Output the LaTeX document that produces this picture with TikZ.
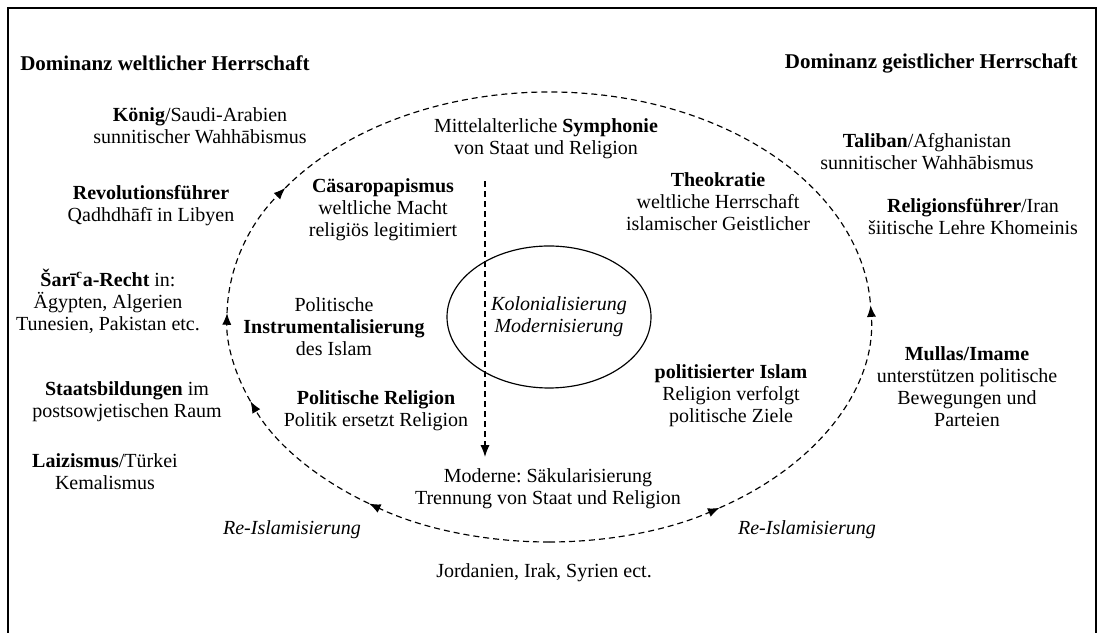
\documentclass[tikz,border=0pt]{standalone}
\usepackage{fontspec}
\setmainfont{Liberation Serif}
\usetikzlibrary{arrows.meta,positioning,calc}
\tikzset{
  txt/.style={align=center, inner sep=0pt, font=\fontsize{12}{13.2}\selectfont},
  itxt/.style={txt, font=\fontsize{12}{13.2}\selectfont\itshape},
  headtxt/.style={inner sep=0pt, font=\fontsize{12.6}{14}\selectfont\bfseries},
  loopline/.style={line width=0.7pt, dash pattern=on 3.6pt off 2.4pt},
  looparrow/.style={loopline, -{Latex[length=7pt, width=5.5pt]}},
  framebox/.style={line width=1.6pt}
}
\frenchspacing
\begin{document}
\begin{tikzpicture}[x=0.6pt, y=0.6pt]
    \useasboundingbox (0,0) rectangle (1101,-633);
    \clip (0,0) rectangle (1101,-633);
    \draw[framebox] (8,-8) rectangle (1096,-660);

    \node[headtxt, anchor=west] (weltl) at (20,-63) {Dominanz weltlicher Herrschaft};
    \node[headtxt, anchor=east] (geistl) at (1078,-63) {Dominanz geistlicher Herrschaft};

    % left side
    \node[txt] (koenig) at (200,-126) {\textbf{König}/Saudi-Arabien\\sunnitischer Wahhābismus};
    \node[txt] (revol) at (151,-206) {\textbf{Revolutionsführer}\\Qadhdhāfī in Libyen};
    \node[txt] (sharia) at (108,-301) {\textbf{Šarī\textsuperscript{c}a-Recht} in:\\Ägypten, Algerien\\Tunesien, Pakistan etc.};
    \node[txt] (staat) at (127,-402) {\textbf{Staatsbildungen} im\\postsowjetischen Raum};
    \node[txt] (laiz) at (105,-472) {\textbf{Laizismus}/Türkei\\Kemalismus};

    % right side
    \node[txt] (taliban) at (927,-152) {\textbf{Taliban}/Afghanistan\\sunnitischer Wahhābismus};
    \node[txt] (relig) at (973,-217) {\textbf{Religionsführer}/Iran\\šiitische Lehre Khomeinis};
    \node[txt] (mullas) at (967,-387) {\textbf{Mullas/Imame}\\unterstützen politische\\Bewegungen und\\Parteien};

    % inside the cycle
    \node[txt] (sym) at (546,-139) {Mittelalterliche \textbf{Symphonie}\\von Staat und Religion};
    \node[txt] (caesar) at (383,-210) {\textbf{Cäsaropapismus}\\weltliche Macht\\religiös legitimiert};
    \node[txt] (theo) at (718,-202) {\textbf{Theokratie}\\weltliche Herrschaft\\islamischer Geistlicher};
    \node[txt] (instr) at (334,-327) {Politische\\\textbf{Instrumentalisierung}\\des Islam};
    \node[txt] (polrel) at (376,-411) {\textbf{Politische Religion}\\Politik ersetzt Religion};
    \node[txt] (polisl) at (731,-396) {\textbf{politisierter Islam}\\Religion verfolgt\\politische Ziele};
    \node[txt] (mod) at (548,-489) {Moderne: Säkularisierung\\Trennung von Staat und Religion};

    % below
    \node[itxt] (reisl1) at (292,-530) {Re-Islamisierung};
    \node[itxt] (reisl2) at (807,-530) {Re-Islamisierung};
    \node[txt] (jordan) at (544,-573) {Jordanien, Irak, Syrien ect.};

    % centre ellipse
    \coordinate (mid) at (549,-317);
    \draw[line width=0.7pt] (mid) ellipse [x radius=102, y radius=71];
    \node[itxt] (kolon) at ([xshift=6pt]mid) {Kolonialisierung\\Modernisierung};

    % dashed cycle
    \draw[loopline] ($(mid)+(145:322 and 225)$) arc[start angle=145, end angle=3, x radius=322, y radius=225];
    \foreach \a/\b in {270/236, 236/202, 202/179, 179/145, 270/302, 302/363}
      \draw[looparrow] ($(mid)+(\a:322 and 225)$) arc[start angle=\a, end angle=\b, x radius=322, y radius=225];

    \coordinate (axis) at (485,0);
    \draw[looparrow] ([yshift=-13pt]sym.south -| axis) -- ([yshift=7pt]mod.north -| axis);
\end{tikzpicture}
\end{document}
